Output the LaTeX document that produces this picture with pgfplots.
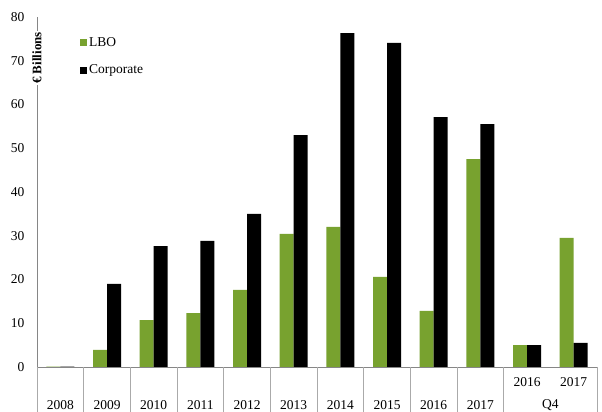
\documentclass[border=0pt]{standalone}
\usepackage{pgfplots}
\pgfplotsset{compat=1.18}
\usepackage{fontspec}
\setmainfont{Liberation Serif}
\definecolor{lbo}{RGB}{120,162,47}
\definecolor{axgray}{RGB}{134,134,134}
\begin{document}
\begin{tikzpicture}[x=1pt,y=1pt]
\begin{axis}[
  at={(0,0)}, anchor=south west,
  scale only axis, width=560pt, height=350pt,
  xmin=-0.5, xmax=11.5, ymin=0, ymax=80,
  xtick=\empty, ytick=\empty,
  axis x line=none,
  axis y line=none,
  clip=false,
  ybar=0pt, bar width=14pt,
]
\addplot[fill=lbo, draw=none] coordinates {(0,0.1) (1,3.9) (2,10.7) (3,12.3) (4,17.6) (5,30.4) (6,32.0) (7,20.6) (8,12.8) (9,47.5) (10,5.0) (11,29.5)};
\addplot[fill=black, draw=none] coordinates {(0,0.1) (1,19.0) (2,27.6) (3,28.8) (4,35.0) (5,53.0) (6,76.3) (7,74.1) (8,57.1) (9,55.5) (10,5.0) (11,5.5)};
\end{axis}
% axes
\draw[axgray, line width=0.8pt] (0,0) -- (560,0);
\draw[axgray, line width=0.8pt] (0,0) -- (0,350);
% y tick labels
\foreach \v in {0,10,...,80} {
  \node[anchor=east, font=\fontsize{13.5}{15}\selectfont] at (-9,{4.375*\v}) {\v};
}
% y label on axis
\node[fill=white, rotate=90, inner sep=1.5pt, font=\bfseries\fontsize{13}{15}\selectfont] at (0,309) {€ Billions};
% category separators
\foreach \b in {0,1,...,10,12} {
  \draw[axgray!70, line width=0.8pt] ({46.667*\b},0) -- ++(0,-46);
}
% labels
\foreach \i/\y in {0/2008,1/2009,2/2010,3/2011,4/2012,5/2013,6/2014,7/2015,8/2016,9/2017} {
  \node[font=\fontsize{13.5}{15}\selectfont] at ({46.667*(\i+0.5)},-38) {\y};
}
\node[font=\fontsize{13.5}{15}\selectfont] at ({46.667*10.5},-15) {2016};
\node[font=\fontsize{13.5}{15}\selectfont] at ({46.667*11.5},-15) {2017};
\node[font=\fontsize{13.5}{15}\selectfont] at ({46.667*11},-38) {Q4};
% legend
\fill[lbo] (43,321) rectangle ++(7,7);
\node[anchor=west, inner sep=1pt, font=\fontsize{13.5}{15}\selectfont] at (51,325) {LBO};
\fill[black] (43,293) rectangle ++(7,7);
\node[anchor=west, inner sep=1pt, font=\fontsize{13.5}{15}\selectfont] at (51,297) {Corporate};
\pgfresetboundingbox
\path (-37,-45) rectangle (565,367);
\end{tikzpicture}
\end{document}
